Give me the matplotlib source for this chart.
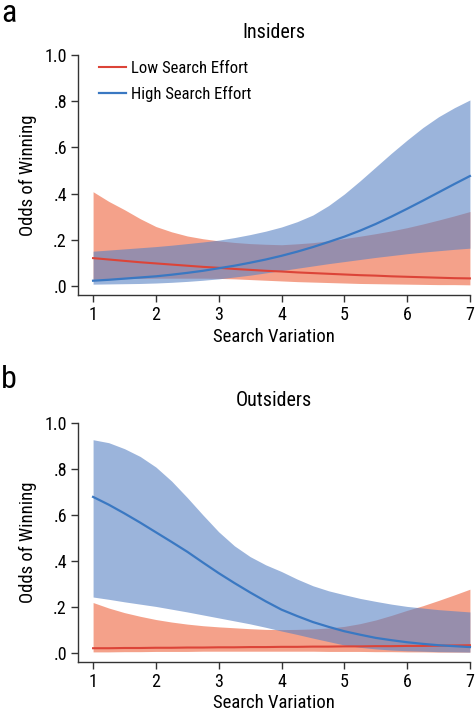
import matplotlib
matplotlib.use("Agg")
import matplotlib.pyplot as plt

plt.rcParams['font.family'] = ['Roboto Condensed', 'Liberation Sans Narrow',
                               'Liberation Sans', 'DejaVu Sans']

# search variation grid (values every 0.25)
variation = [1, 1.25, 1.5, 1.75, 2, 2.25, 2.5, 2.75, 3, 3.25, 3.5, 3.75, 4,
             4.25, 4.5, 4.75, 5, 5.25, 5.5, 5.75, 6, 6.25, 6.5, 6.75, 7]

# panel a: insiders
ins_low = [0.120, 0.114, 0.108, 0.102, 0.097, 0.092, 0.087, 0.082, 0.078, 0.073, 0.069, 0.065, 0.062,
           0.058, 0.055, 0.052, 0.049, 0.046, 0.044, 0.041, 0.039, 0.037, 0.035, 0.033, 0.032]
ins_low_lo = [0.028, 0.030, 0.031, 0.032, 0.033, 0.033, 0.033, 0.033, 0.032, 0.030, 0.027, 0.024, 0.021,
              0.018, 0.016, 0.014, 0.012, 0.010, 0.009, 0.008, 0.007, 0.006, 0.005, 0.005, 0.004]
ins_low_hi = [0.408, 0.366, 0.330, 0.291, 0.257, 0.234, 0.216, 0.204, 0.195, 0.188, 0.183, 0.180, 0.178,
              0.182, 0.187, 0.195, 0.205, 0.215, 0.226, 0.238, 0.252, 0.268, 0.285, 0.303, 0.322]
ins_high = [0.022, 0.026, 0.031, 0.036, 0.041, 0.048, 0.056, 0.065, 0.076, 0.087, 0.100, 0.114, 0.130,
            0.148, 0.168, 0.190, 0.213, 0.239, 0.268, 0.300, 0.334, 0.369, 0.405, 0.441, 0.476]
ins_high_lo = [0.007, 0.008, 0.009, 0.010, 0.012, 0.015, 0.019, 0.024, 0.030, 0.038, 0.046, 0.056, 0.066,
               0.076, 0.086, 0.096, 0.105, 0.114, 0.123, 0.131, 0.139, 0.146, 0.152, 0.158, 0.163]
ins_high_hi = [0.150, 0.155, 0.160, 0.165, 0.170, 0.176, 0.183, 0.190, 0.198, 0.209, 0.222, 0.237, 0.255,
               0.278, 0.307, 0.348, 0.398, 0.455, 0.515, 0.575, 0.632, 0.686, 0.733, 0.772, 0.806]

# panel b: outsiders
out_low = [0.020, 0.020, 0.021, 0.021, 0.022, 0.022, 0.023, 0.023, 0.024, 0.024, 0.025, 0.025, 0.026,
           0.026, 0.027, 0.027, 0.028, 0.028, 0.029, 0.029, 0.030, 0.030, 0.031, 0.032, 0.033]
out_low_lo = [0.004, 0.004, 0.005, 0.005, 0.006, 0.006, 0.006, 0.007, 0.007, 0.007, 0.007, 0.007, 0.007,
              0.007, 0.007, 0.006, 0.006, 0.006, 0.005, 0.005, 0.004, 0.004, 0.003, 0.003, 0.003]
out_low_hi = [0.219, 0.195, 0.175, 0.159, 0.145, 0.134, 0.125, 0.118, 0.113, 0.109, 0.105, 0.102, 0.101,
              0.102, 0.104, 0.108, 0.115, 0.127, 0.143, 0.163, 0.185, 0.205, 0.228, 0.252, 0.277]
out_high = [0.679, 0.645, 0.607, 0.567, 0.525, 0.483, 0.440, 0.393, 0.347, 0.304, 0.263, 0.224, 0.188,
            0.160, 0.134, 0.113, 0.094, 0.079, 0.065, 0.055, 0.046, 0.039, 0.033, 0.029, 0.025]
out_high_lo = [0.243, 0.233, 0.222, 0.212, 0.202, 0.190, 0.178, 0.165, 0.152, 0.139, 0.126, 0.111, 0.095,
               0.080, 0.064, 0.049, 0.034, 0.024, 0.017, 0.012, 0.009, 0.007, 0.005, 0.004, 0.003]
out_high_hi = [0.928, 0.915, 0.889, 0.855, 0.809, 0.748, 0.676, 0.600, 0.527, 0.466, 0.419, 0.383, 0.354,
               0.321, 0.292, 0.270, 0.253, 0.237, 0.224, 0.212, 0.202, 0.195, 0.188, 0.183, 0.178]

xticks = [1, 2, 3, 4, 5, 6, 7]
yticks = [0, 0.2, 0.4, 0.6, 0.8, 1.0]
ytick_labels = ['.0', '.2', '.4', '.6', '.8', '1.0']

RED_FILL = (0.93, 0.39, 0.24)
BLUE_FILL = (0.35, 0.51, 0.77)
RED_LINE = '#dc4438'
BLUE_LINE = '#3a78c2'
W, H = 476, 714


def draw_panel(ax, low, low_lo, low_hi, high, high_lo, high_hi):
    # red band and line go under the blue band, blue line on top
    ax.fill_between(variation, low_lo, low_hi, color=RED_FILL, alpha=0.6, lw=0)
    ax.plot(variation, low, color=RED_LINE, lw=1.5, label='Low Search Effort')
    ax.fill_between(variation, high_lo, high_hi, color=BLUE_FILL, alpha=0.6, lw=0)
    ax.plot(variation, high, color=BLUE_LINE, lw=1.6, label='High Search Effort')
    ax.set_xlim(0.76, 7.24)
    ax.set_ylim(-0.04, 1.04)
    ax.set_xticks(xticks)
    ax.set_yticks(yticks)
    ax.set_yticklabels(ytick_labels)
    for s in ['top', 'right']:
        ax.spines[s].set_visible(False)
    for s in ['left', 'bottom']:
        ax.spines[s].set_color('#333333')
        ax.spines[s].set_linewidth(1.0)
    ax.spines['left'].set_bounds(-0.04, 1.0)
    ax.spines['bottom'].set_bounds(0.76, 7)
    ax.tick_params(direction='out', length=5, width=1.0, color='#333333',
                   labelsize=13, pad=3)


fig = plt.figure(figsize=(W / 100, H / 100), dpi=100)
ax_a = fig.add_axes([78 / W, 1 - 295 / H, 407 / W, 249 / H])
ax_b = fig.add_axes([78 / W, 1 - 662 / H, 407 / W, 248 / H])

draw_panel(ax_a, ins_low, ins_low_lo, ins_low_hi, ins_high, ins_high_lo, ins_high_hi)
draw_panel(ax_b, out_low, out_low_lo, out_low_hi, out_high, out_high_lo, out_high_hi)

ax_a.legend(loc='upper left', bbox_to_anchor=(0.035, 0.967), frameon=False,
            fontsize=12, handlelength=1.6, handletextpad=0.35,
            labelspacing=0.6, borderaxespad=0)

for ax, title, ty, ly, xl in [(ax_a, 'Insiders', 32, 175, 337),
                              (ax_b, 'Outsiders', 401, 542, 703)]:
    fig.text(274 / W, 1 - ty / H, title, ha='center', va='center', fontsize=14.5)
    fig.text(28 / W, 1 - ly / H, 'Odds of Winning', ha='center', va='center',
             rotation=90, fontsize=13.5)
    fig.text(274 / W, 1 - xl / H, 'Search Variation', ha='center', va='center',
             fontsize=13.5)

fig.text(0.002, 1 - 13 / H, 'a', ha='left', va='center', fontsize=23)
fig.text(0.002, 1 - 379 / H, 'b', ha='left', va='center', fontsize=23)

fig.savefig('out.png', dpi=100)
